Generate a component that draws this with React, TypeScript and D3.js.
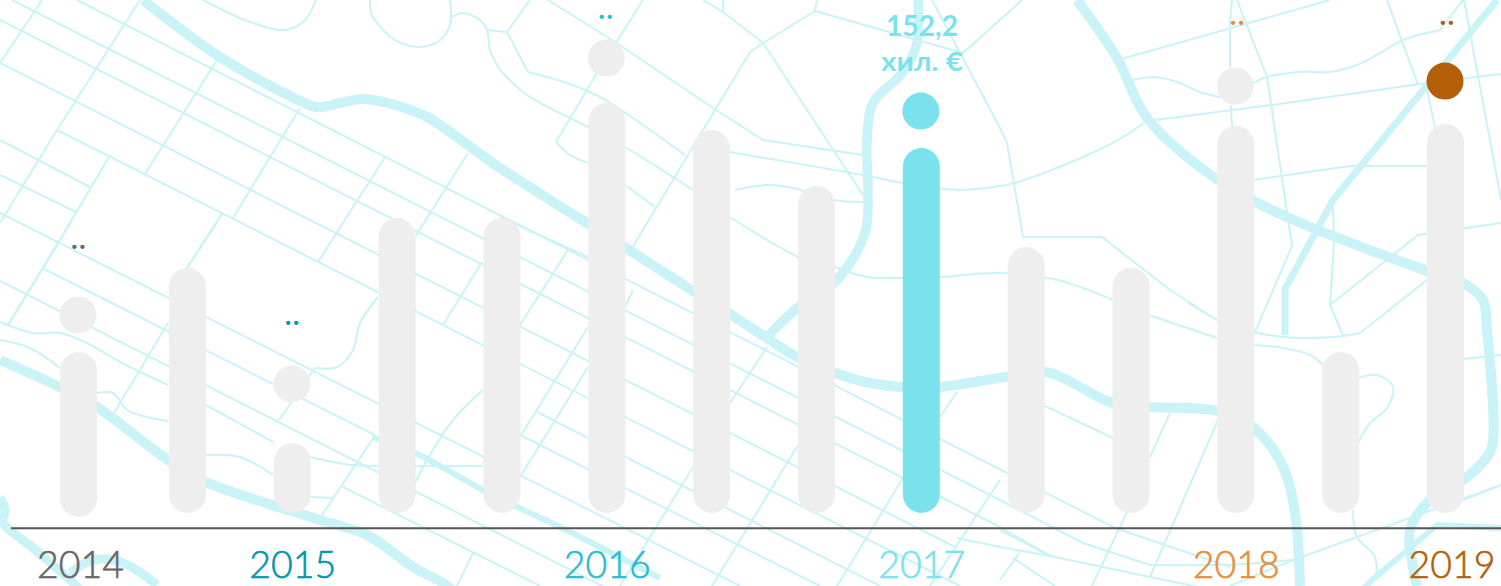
import React from "react";
import * as d3 from "d3";

type Pt = [number, number];

// ---- chart data ----
const periods = ["2014", "2014b", "2015", "2015b", "2016a", "2016", "2016b", "2016c", "2017", "2017b", "2017c", "2018", "2018b", "2019"];
const barValues = [68.8, 102.2, 29.2, 123, 123, 171, 159.7, 136.4, 152.2, 110.9, 102.2, 161.4, 67.1, 162.2];
const yearIndexes = [0, 2, 5, 8, 11, 13];
const yearLabels = ["2014", "2015", "2016", "2017", "2018", "2019"];
const yearColors = ["#666666", "#0097a7", "#26bccf", "#7ae2ec", "#e68f3a", "#b35f07"];
const yearDotValues = [82.6, 53.8, 189.7, 167.6, 178, 180.1];
const yearNoteValues = [110.3, 79, 206.6, 0, 203.7, 204.1];
const yearNotes = ["..", "..", "..", "", "..", ".."];
const noteShift = [0, 0, -1, 0, 1.5, 1.5];
const highlight = { year: "2017", lines: ["152,2", "хил. €"] };
const markerFill = ["#eeeeee", "#eeeeee", "#eeeeee", "#7ae2ec", "#eeeeee", "#b35f07"];

// ---- decorative street map behind the chart ----
const curvedRoads: { w: number; pts: Pt[] }[] = [
  { w: 10, pts: [[143,0],[217,55],[290,96],[317,107],[340,103],[363,99],[395,105],[427,117],[500,168],[590,225],[626,248],[693,291],[730,314],[767,338],[797,357],[835,373],[870,383],[903,387],[940,387],[1000,378],[1045,372],[1067,380],[1110,402],[1149,407],[1217,411],[1253,427],[1283,467],[1295,513],[1300,586]] },
  { w: 10, pts: [[0,360],[62,388],[97,407],[168,460],[206,482],[320,520],[367,535],[413,567],[443,583],[452,590]] },
  { w: 6, pts: [[372,437],[415,453],[483,490],[513,505],[562,528],[660,578]] },
  { w: 9, pts: [[0,497],[5,510],[3,522],[33,548],[70,580],[80,590]] },
  { w: 9, pts: [[70,573],[93,560],[123,563],[157,585]] },
  { w: 9.5, pts: [[918,0],[917,43],[903,72],[873,103],[867,143],[868,190],[865,233],[837,280],[797,308],[767,337]] },
  { w: 10, pts: [[1077,0],[1117,58],[1147,118],[1218,180],[1287,217],[1430,272],[1463,283],[1483,300],[1487,330],[1492,447],[1483,462],[1463,480],[1430,500],[1410,530],[1413,567],[1417,586]] },
];
const straightRoads: { w: number; pts: Pt[] }[] = [
  { w: 7, pts: [[1497,0],[1333,200],[1285,289],[1285,335]] },
  { w: 6, pts: [[1501,528],[1437,525],[1372,580],[1362,590]] },
];

const curvedStreets: Pt[][] = [
  [[203,0],[250,22],[285,30],[305,20],[316,0]],
  [[370,0],[372,15],[395,40],[420,47],[440,40],[450,25],[450,0]],
  [[450,18],[463,13],[480,20],[487,30],[490,50],[500,70]],
  [[0,322],[33,333],[60,333],[87,343],[120,362],[168,385]],
  [[0,340],[30,348],[60,368]],
  [[97,393],[113,393],[127,410],[147,417],[168,421]],
  [[206,455],[240,457],[273,475]],
  [[310,497],[335,498]],
  [[378,297],[360,323],[353,350],[337,367],[315,368]],
  [[310,457],[353,465],[415,466],[483,466]],
  [[483,390],[453,420],[427,460],[415,483]],
  [[556,142],[570,155],[588,163]],
  [[528,72],[567,83],[600,97],[633,118],[685,155]],
  [[500,70],[527,95],[588,127],[625,147],[673,177],[693,190]],
  [[625,185],[655,207]],
  [[735,190],[767,185],[793,188],[833,200],[863,202]],
  [[730,217],[767,240],[798,257]],
  [[835,267],[867,277],[903,278],[940,277],[1000,273],[1058,280],[1113,300]],
  [[1149,315],[1217,338]],
  [[730,152],[863,175],[903,183],[960,190],[1000,186],[1015,183],[1083,157],[1123,137],[1145,122]],
  [[1128,81],[1155,77],[1177,82],[1200,92],[1220,97]],
  [[1253,83],[1267,77],[1300,72],[1330,72],[1357,65],[1380,53],[1403,40],[1440,30]],
  [[1253,332],[1283,337],[1333,337],[1360,333]],
  [[1254,345],[1283,348],[1310,355],[1323,365]],
  [[1358,378],[1377,375],[1393,387],[1387,408],[1370,423],[1358,443]],
  [[1353,510],[1357,537],[1375,557],[1376,580]],
  [[1188,303],[1217,320]],
];

const straightStreets: Pt[][] = [
  // long parallel streets
  [[12,0],[1000,500],[1083,543],[1150,565],[1230,565],[1293,560],[1410,518],[1501,485]],
  [[77,0],[1115,528],[1230,567]],
  [[0,20],[1000,527],[1050,556],[1150,577],[1213,590]],
  [[0,63],[957,548]],
  [[57,130],[960,586]],
  [[0,140],[90,187]],
  [[0,175],[76,212]],
  [[537,412],[880,586]],
  [[520,435],[820,586]],
  [[0,213],[740,586]],
  [[44,269],[375,435]],
  [[0,281],[610,590]],
  [[206,405],[273,442]],
  [[343,487],[540,586]],
  [[500,217],[588,257]],
  // steep cross streets
  [[42,0],[0,63]],
  [[140,0],[57,130],[0,223]],
  [[217,60],[145,174]],
  [[300,108],[233,218]],
  [[109,157],[48,260],[8,325]],
  [[222,214],[187,268]],
  [[218,220],[187,268]],
  [[385,157],[318,262]],
  [[468,153],[415,237]],
  [[482,262],[443,325]],
  [[168,323],[114,413]],
  [[72,220],[8,325]],
  [[315,368],[279,420]],
  [[372,440],[320,518]],
  [[473,553],[457,586]],
  [[530,0],[507,32],[528,72]],
  [[487,30],[507,32]],
  [[548,0],[615,42],[713,108],[763,140],[863,155]],
  [[643,0],[597,73],[556,142]],
  [[750,52],[632,248]],
  [[703,0],[723,12],[763,43],[815,11],[817,0]],
  [[723,0],[723,12]],
  [[750,52],[763,43],[863,195]],
  [[815,11],[963,53],[1022,0]],
  [[932,0],[1000,128],[1007,143],[1023,237],[1102,237],[1170,290],[1217,320]],
  [[568,250],[520,325]],
  [[588,327],[520,437]],
  [[588,367],[520,477]],
  [[633,290],[625,307]],
  [[693,467],[620,586]],
  [[798,445],[712,586]],
  [[767,347],[730,403]],
  [[903,478],[837,586]],
  [[957,392],[940,417]],
  [[1000,480],[955,548],[930,586]],
  [[957,538],[1000,547],[1050,556]],
  [[1000,530],[1050,556]],
  [[1020,552],[1000,580]],
  [[1013,558],[1055,586]],
  [[1118,60],[1330,0]],
  [[1155,120],[1272,105],[1427,83],[1501,74]],
  [[1232,0],[1230,22],[1230,68]],
  [[1231,105],[1232,127]],
  [[1237,0],[1267,77],[1292,246],[1255,332]],
  [[1253,180],[1350,166],[1427,166]],
  [[1333,207],[1334,243],[1330,305],[1343,335]],
  [[1330,305],[1418,235],[1501,223]],
  [[1387,0],[1418,85]],
  [[1440,30],[1463,0]],
  [[1427,90],[1435,127]],
  [[1464,0],[1501,200]],
  [[1360,333],[1427,280]],
  [[1463,359],[1501,355]],
  [[1043,405],[1113,438]],
  [[1170,413],[1150,457]],
  [[1218,420],[1150,577]],
  [[1127,512],[1092,586]],
  [[1293,560],[1230,586]],
  [[1463,500],[1501,485]],
];

const W = 1501;
const H = 586;
const BAR_W = 37;
const MAP = "#c9f3f7";

export default function App() {
  // the first bar sits slightly off the regular grid in the source picture
  const x = d3.scaleLinear().domain([0, 1, periods.length - 1]).range([78.5, 187.5, 1445.5]);
  const y = d3.scaleLinear().domain([0, 152.2]).range([513, 148]);
  const curved = d3.line<Pt>().curve(d3.curveCatmullRom.alpha(0.5));
  const straight = d3.line<Pt>();

  return (
    <svg
      width={W}
      height={H}
      viewBox={`0 0 ${W} ${H}`}
      style={{ position: "absolute", left: 0, top: 0, display: "block", background: "#fff" }}
    >
      <g fill="none" stroke={MAP} strokeLinejoin="round">
        {straightStreets.map((p, i) => (
          <path key={`s${i}`} d={straight(p) ?? ""} strokeWidth={2} />
        ))}
        {curvedStreets.map((p, i) => (
          <path key={`c${i}`} d={curved(p) ?? ""} strokeWidth={2} />
        ))}
        {curvedRoads.map((r, i) => (
          <path key={`t${i}`} d={curved(r.pts) ?? ""} strokeWidth={r.w} />
        ))}
        {straightRoads.map((r, i) => (
          <path key={`r${i}`} d={straight(r.pts) ?? ""} strokeWidth={r.w} />
        ))}
      </g>

      {barValues.map((v, i) => {
        const drop = i === 0 ? 4 : 0;
        const top = y(v);
        return (
          <rect
            key={periods[i]}
            x={x(i) - BAR_W / 2}
            y={top + drop}
            width={BAR_W}
            height={y(0) - top}
            rx={BAR_W / 2}
            ry={BAR_W / 2}
            fill={periods[i] === highlight.year ? "#7ae2ec" : "#eeeeee"}
          />
        );
      })}

      {yearIndexes.map((idx, i) => (
        <circle key={`d${i}`} cx={x(idx) - 0.5} cy={y(yearDotValues[i])} r={18.5} fill={markerFill[i]} />
      ))}

      <line x1={11} x2={W} y1={528.3} y2={528.3} stroke="#555555" strokeWidth={2} />

      {yearIndexes.map((idx, i) =>
        yearNotes[i] ? (
          <text
            key={`n${i}`}
            x={x(idx) + noteShift[i] + 2}
            y={y(yearNoteValues[i])}
            textAnchor="middle"
            fontFamily="Lato, 'Noto Sans', sans-serif"
            fontWeight={700}
            fontSize={16}
            letterSpacing={4.3}
            fill={yearColors[i]}
            stroke={yearColors[i]}
            strokeWidth={1.8}
          >
            {yearNotes[i]}
          </text>
        ) : null,
      )}

      <g fontFamily="Lato, 'Noto Sans', sans-serif" fontWeight={700} fill="#7ae2ec" textAnchor="middle">
        <text x={922} y={36} fontSize={29} textLength={72} lengthAdjust="spacingAndGlyphs">{highlight.lines[0]}</text>
        <text x={922} y={71} fontSize={27} textLength={82} lengthAdjust="spacingAndGlyphs">{highlight.lines[1]}</text>
      </g>

      {yearLabels.map((label, i) => (
        <text
          key={label}
          x={i === 0 ? 80.5 : i === 5 ? 1452 : x(yearIndexes[i]) + 0.5}
          y={577.8}
          textAnchor="middle"
          fontFamily="Lato, sans-serif"
          fontWeight={300}
          fontSize={38}
          textLength={87}
          lengthAdjust="spacingAndGlyphs"
          fill={yearColors[i]}
          stroke={yearColors[i]}
          strokeWidth={0.6}
        >
          {label}
        </text>
      ))}
    </svg>
  );
}
